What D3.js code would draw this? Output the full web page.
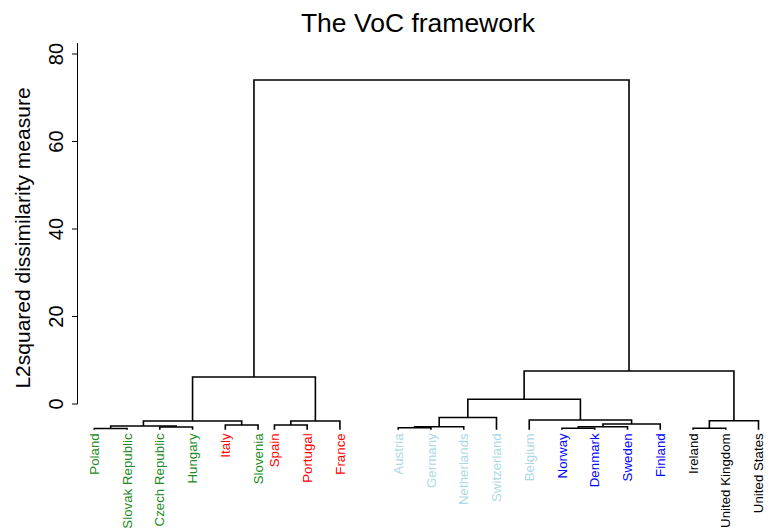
<!DOCTYPE html>
<html><head><meta charset="utf-8">
<script src="https://cdn.jsdelivr.net/npm/d3@7"></script>
<style>
body{margin:0;background:#fff;}
svg{display:block;font-family:"Liberation Sans",Arial,Helvetica,sans-serif;}
</style>
</head><body>
<svg id="chart" width="775" height="530"></svg>
<script>
// ---------- data ----------
const chartTitle = "The VoC framework";
const yAxisTitle = "L2squared dissimilarity measure";
// leaves in dendrogram order (1-based indices are used in the merge lists)
const leaves = ["Poland","Slovak Republic","Czech Republic","Hungary","Italy","Slovenia",
  "Spain","Portugal","France","Austria","Germany","Netherlands","Switzerland","Belgium",
  "Norway","Denmark","Sweden","Finland","Ireland","United Kingdom","United States"];
const leafGroup = ["CEE","CEE","CEE","CEE","MME","CEE","MME","MME","MME",
  "CME","CME","CME","CME","CME","Nordic","Nordic","Nordic","Nordic","LME","LME","LME"];
// hclust-style merges: negative = leaf, positive = earlier merge (1-based)
const mergeA = [-1,-15,-19,-10,-3, 4, 2, 1,-5,-7, 7, 8,10, 3,-14, 6,16,12,17,18];
const mergeB = [-2,-16,-20,-11,-4,-12,-17, 5,-6,-8,-18, 9,-9,-21, 11,-13,15,13,14,19];
const mergeHeight = [-5.60,-5.55,-5.55,-5.42,-5.26,-5.19,-5.19,-5.03,-4.80,-4.80,-4.57,
  -3.89,-3.89,-3.82,-3.66,-3.09,1.07,6.17,7.54,74.06];
const leafHeight = -5.9;
const yTicks = [0,20,40,60,80];

// ---------- styles / layout ----------
const groupColor = {CEE:"#228B22", MME:"#FF0000", CME:"#ADD8E6", Nordic:"#0000FF", LME:"#000000"};
const svg = d3.select("#chart");
const y = d3.scaleLinear().domain([0,80]).range([404,54]);
// leaf slot positions (with the small layout gaps seen in the figure)
function slotOf(i){ return i + (i>=9 ? 0.28 : (i>=6 ? -0.5 : 0)); }
const x = d3.scaleLinear().domain([0, slotOf(leaves.length-1)]).range([94.3, 758.5]);

// compute node positions
const mergeX = [];
function childX(c){ return c<0 ? x(slotOf(-c-1)) : mergeX[c-1]; }
function childH(c){ return c<0 ? leafHeight : mergeHeight[c-1]; }
mergeA.forEach((a,k)=>{ mergeX[k] = (childX(a)+childX(mergeB[k]))/2; });

// dendrogram segments
const g = svg.append("g");
mergeA.forEach((a,k)=>{
  const b = mergeB[k], h = mergeHeight[k];
  const p = d3.path();
  p.moveTo(childX(a), y(childH(a)));
  p.lineTo(childX(a), y(h));
  p.lineTo(childX(b), y(h));
  p.lineTo(childX(b), y(childH(b)));
  g.append("path").attr("d", p.toString()).attr("fill","none")
    .attr("stroke","#000").attr("stroke-width",1.6);
});

// leaf labels
svg.append("g").selectAll("text").data(leaves).join("text")
  .attr("transform",(d,i)=>`translate(${x(slotOf(i))},${y(leafHeight)+3.5}) rotate(-90)`)
  .attr("text-anchor","end").attr("dy","0.35em")
  .attr("font-size",13.3)
  .attr("fill",(d,i)=>groupColor[leafGroup[i]])
  .text(d=>d);

// y axis
const ax = svg.append("g");
ax.append("line").attr("x1",77.5).attr("x2",77.5)
  .attr("y1",y(82.5)).attr("y2",y(0)).attr("stroke","#000").attr("stroke-width",1);
ax.selectAll("line.tick").data(yTicks).join("line").attr("class","tick")
  .attr("x1",72).attr("x2",77.5).attr("y1",d=>y(d)).attr("y2",d=>y(d))
  .attr("stroke","#000").attr("stroke-width",1);
ax.selectAll("text").data(yTicks).join("text")
  .attr("transform",d=>`translate(63,${y(d)}) rotate(-90)`)
  .attr("text-anchor","middle").attr("font-size",20).attr("fill","#000")
  .text(d=>d);

svg.append("text").attr("transform",`translate(30,238) rotate(-90)`)
  .attr("text-anchor","middle").attr("font-size",21).attr("fill","#000").text(yAxisTitle);

svg.append("text").attr("x",418).attr("y",32).attr("text-anchor","middle")
  .attr("font-size",26.5).attr("fill","#000").text(chartTitle);
</script>
</body></html>
